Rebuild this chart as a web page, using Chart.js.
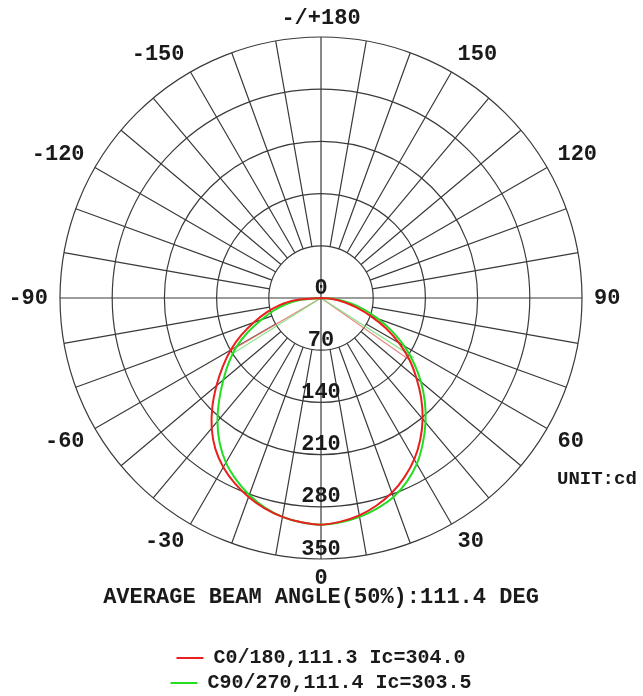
<!DOCTYPE html>
<html>
<head>
<meta charset="utf-8">
<script src="https://cdn.jsdelivr.net/npm/chart.js@4/dist/chart.umd.min.js"></script>
<style>
  html, body { margin: 0; padding: 0; background: #fff; overflow: hidden; }
  canvas { display: block; }
</style>
</head>
<body>
<canvas id="polarChart" width="643" height="703"></canvas>
<script>
// gamma angles (deg) from nadir for each half plane
const gammaDeg = [0, 5, 10, 15, 20, 25, 30, 35, 40, 45, 50, 55, 60, 65, 70, 75, 80, 85, 90];

// intensities in cd
const c0Values   = [304, 301, 296, 288, 278, 265, 250, 232, 212, 190, 167, 145, 121, 96, 71, 49, 31, 15, 0];
const c180Values = [304, 302, 298, 292, 284, 274, 262, 247, 228, 206, 183, 161, 140, 118, 96, 76, 57, 35, 0];
const c90Values  = [304, 302, 298, 292, 284, 272, 257, 238, 218, 197, 175, 152, 129, 105, 81, 60, 40, 20, 0];
const c270Values = [304, 302, 298, 291, 281, 269, 255, 237, 216, 193, 171, 151, 131, 108, 85, 66, 48, 27, 0];

// 50% beam lines: gamma angle and intensity where they meet the curve
const beamC0180Angles = [55, -59.8];
const beamC0180Values = [145, 139];
const beamC90270Angles = [57.3, -57.8];
const beamC90270Values = [148, 139];

const seriesNames = ['C0/180,111.3 Ic=304.0', 'C90/270,111.4 Ic=303.5'];
const radialTicks = [0, 70, 140, 210, 280, 350];
const angleTickLabels = ['-/+180', '150', '120', '90', '60', '30', '0', '-30', '-60', '-90', '-120', '-150'];

const MONO = "'Liberation Mono', 'Courier New', monospace";
const gridColor = '#3a3a3a';
const textColor = '#1a1a1a';
const redColor = '#e8201f';
const greenColor = '#22dd22';

// one category every 5 degrees, clockwise from the top (gamma 180)
const stepDeg = 5;
const categories = [];
for (let a = 0; a < 360; a += stepDeg) categories.push(180 - a);

function toRadar(rightSide, leftSide) {
  const out = new Array(categories.length).fill(null);
  gammaDeg.forEach((g, j) => {
    out[(180 - g) / stepDeg] = rightSide[j];
    out[(180 + g) / stepDeg] = leftSide[j];
  });
  return out;
}

// point on the polar grid: clockwise degrees from top, distance in px
function polarPos(scale, clockDeg, dist) {
  const t = (clockDeg - 90) * Math.PI / 180;
  return { x: scale.xCenter + Math.cos(t) * dist, y: scale.yCenter + Math.sin(t) * dist };
}

const polarDecor = {
  id: 'polarDecor',
  beforeDatasetsDraw(chart) {
    const s = chart.scales.r;
    const ctx = chart.ctx;
    const inner = s.getDistanceFromCenterForValue(radialTicks[1]);
    const outer = s.getDistanceFromCenterForValue(radialTicks[radialTicks.length - 1]);
    ctx.save();
    ctx.strokeStyle = gridColor;
    ctx.lineWidth = 1.2;
    ctx.beginPath();
    for (let a = 0; a < 360; a += 10) {
      const p0 = polarPos(s, a, a % 90 === 0 ? 0 : inner);
      const p1 = polarPos(s, a, outer);
      ctx.moveTo(p0.x, p0.y);
      ctx.lineTo(p1.x, p1.y);
    }
    ctx.stroke();

    const beams = [
      [beamC0180Angles, beamC0180Values, 'rgba(235,110,110,0.85)'],
      [beamC90270Angles, beamC90270Values, 'rgba(120,225,120,0.85)']
    ];
    beams.forEach(([angles, values, color]) => {
      ctx.strokeStyle = color;
      ctx.lineWidth = 1.2;
      angles.forEach((g, i) => {
        const p = polarPos(s, 180 - g, s.getDistanceFromCenterForValue(values[i]));
        ctx.beginPath();
        ctx.moveTo(s.xCenter, s.yCenter);
        ctx.lineTo(p.x, p.y);
        ctx.stroke();
      });
    });
    ctx.restore();
  },
  afterDraw(chart) {
    const s = chart.scales.r;
    const ctx = chart.ctx;
    const outer = s.drawingArea;
    ctx.save();
    ctx.fillStyle = textColor;
    ctx.font = 'bold 22px ' + MONO;
    ctx.textBaseline = 'middle';

    // intensity values down the nadir axis
    ctx.textAlign = 'center';
    s.ticks.forEach(t => {
      ctx.fillText(String(t.value), s.xCenter, s.yCenter + s.getDistanceFromCenterForValue(t.value) - 10);
    });

    // gamma labels around the rim
    angleTickLabels.forEach((label, k) => {
      const a = k * 30;
      const p = polarPos(s, a, outer + 12);
      const sin = Math.round(Math.sin(a * Math.PI / 180) * 1000) / 1000;
      const cos = Math.round(Math.cos(a * Math.PI / 180) * 1000) / 1000;
      ctx.textAlign = sin > 0 ? 'left' : sin < 0 ? 'right' : 'center';
      const dy = cos > 0 ? -7 : cos < 0 ? 7 : 0;
      ctx.fillText(label, p.x, p.y + dy);
    });

    ctx.textAlign = 'left';
    ctx.font = 'bold 19px ' + MONO;
    ctx.fillText('UNIT:cd', s.xCenter + 236, s.yCenter + 181);
    ctx.restore();
  }
};

new Chart(document.getElementById('polarChart'), {
  type: 'radar',
  data: {
    labels: categories,
    datasets: [
      {
        label: seriesNames[0],
        data: toRadar(c0Values, c180Values),
        borderColor: redColor,
        backgroundColor: redColor,
        borderWidth: 2,
        fill: false,
        spanGaps: false,
        tension: 0.3,
        pointRadius: 0,
      },
      {
        label: seriesNames[1],
        data: toRadar(c90Values, c270Values),
        borderColor: greenColor,
        backgroundColor: greenColor,
        borderWidth: 2,
        fill: false,
        spanGaps: false,
        tension: 0.3,
        pointRadius: 0,
      },
    ],
  },
  options: {
    responsive: false,
    animation: false,
    layout: { padding: { top: 37, left: 60, right: 61, bottom: 0 } },
    scales: {
      r: {
        min: radialTicks[0],
        max: radialTicks[radialTicks.length - 1],
        startAngle: 0,
        ticks: { display: false, stepSize: 70 },
        grid: { circular: true, color: gridColor, lineWidth: 1.2 },
        angleLines: { display: false },
        pointLabels: { display: false },
      },
    },
    plugins: {
      tooltip: { enabled: false },
      title: {
        display: true,
        position: 'bottom',
        weight: 500,
        text: 'AVERAGE BEAM ANGLE(50%):111.4 DEG',
        color: textColor,
        font: { family: MONO, size: 22, weight: 'bold' },
        padding: { top: 24.8, bottom: 32.8 },
      },
      legend: {
        position: 'bottom',
        labels: {
          usePointStyle: true,
          pointStyle: 'line',
          pointStyleWidth: 27,
          padding: 5,
          color: textColor,
          font: { family: MONO, size: 20, weight: 'bold' },
        },
      },
    },
  },
  plugins: [polarDecor],
});
</script>
</body>
</html>
